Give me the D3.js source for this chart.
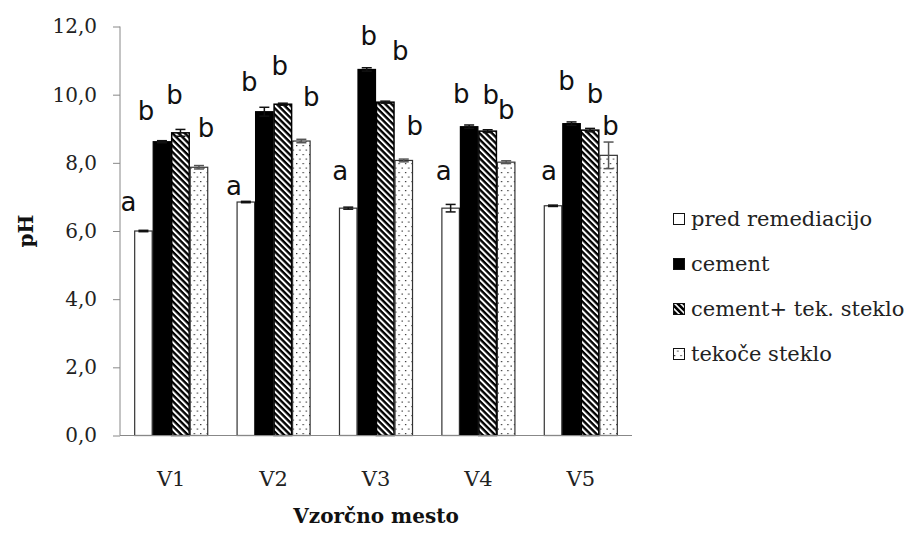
<!DOCTYPE html>
<html>
<head>
<meta charset="utf-8">
<script src="https://cdn.jsdelivr.net/npm/d3@7"></script>
<style>
  html, body { margin: 0; padding: 0; background: #fff; }
  svg { display: block; }
</style>
</head>
<body>
<div id="chart"></div>
<script>
// ---- data ----
const categories = ["V1", "V2", "V3", "V4", "V5"];
const seriesNames = ["pred remediacijo", "cement", "cement+ tek. steklo", "tekoče steklo"];
const predRemediacijo = [6.00, 6.85, 6.67, 6.67, 6.74];
const cement = [8.62, 9.50, 10.74, 9.06, 9.15];
const cementTekSteklo = [8.88, 9.72, 9.78, 8.93, 8.96];
const tekoceSteklo = [7.87, 8.64, 8.07, 8.02, 8.22];
const errPred = [0.02, 0.02, 0.03, 0.11, 0.02];
const errCement = [0.03, 0.13, 0.05, 0.05, 0.05];
const errCementTek = [0.10, 0.03, 0.03, 0.04, 0.05];
const errTekoce = [0.05, 0.05, 0.04, 0.04, 0.39];
const letters = [
  ["a", "b", "b", "b"],
  ["a", "b", "b", "b"],
  ["a", "b", "b", "b"],
  ["a", "b", "b", "b"],
  ["a", "b", "b", "b"]
];
// letter baseline heights (pH units) and horizontal nudges (px) as placed in the original
const letterLevel = [
  [6.59, 9.26, 9.73, 8.76],
  [7.06, 10.11, 10.58, 9.67],
  [7.50, 11.46, 11.02, 8.82],
  [7.50, 9.76, 9.73, 9.29],
  [7.50, 10.14, 9.76, 8.82]
];
const letterNudge = [
  [-15, -16, -6, 7],
  [-12, -15, -3, 10],
  [-8, 2, 15, 11],
  [-7, -8, 3, 0],
  [-4, -5, 5, 2]
];
const yTicks = [0, 2, 4, 6, 8, 10, 12];
const yTitle = "pH";
const xTitle = "Vzorčno mesto";

const values = [predRemediacijo, cement, cementTekSteklo, tekoceSteklo];
const errors = [errPred, errCement, errCementTek, errTekoce];

// ---- layout ----
const W = 907, H = 537;
const plot = { left: 120, right: 632, top: 26.5, bottom: 435.5 };
const svg = d3.select("#chart").append("svg").attr("width", W).attr("height", H);

const defs = svg.append("defs");
const hatch = defs.append("pattern").attr("id", "hatch")
  .attr("patternUnits", "userSpaceOnUse").attr("width", 4.4).attr("height", 4.4)
  .attr("patternTransform", "rotate(-45)");
hatch.append("rect").attr("width", 4.4).attr("height", 4.4).attr("fill", "#000");
hatch.append("rect").attr("width", 2.0).attr("height", 4.4).attr("fill", "#fff");

const hatchLeg = defs.append("pattern").attr("id", "hatchLeg")
  .attr("patternUnits", "userSpaceOnUse").attr("width", 4.2).attr("height", 4.2)
  .attr("patternTransform", "rotate(-45)");
hatchLeg.append("rect").attr("width", 4.2).attr("height", 4.2).attr("fill", "#000");
hatchLeg.append("rect").attr("width", 1.6).attr("height", 4.2).attr("fill", "#fff");

const dots = defs.append("pattern").attr("id", "dots")
  .attr("patternUnits", "userSpaceOnUse").attr("width", 6.5).attr("height", 9);
dots.append("rect").attr("width", 6.5).attr("height", 9).attr("fill", "#fff");
dots.append("rect").attr("x", 1).attr("y", 1).attr("width", 1.2).attr("height", 1.2).attr("fill", "#222");
dots.append("rect").attr("x", 4.2).attr("y", 5.5).attr("width", 1.2).attr("height", 1.2).attr("fill", "#222");

const fills = ["#fff", "#000", "url(#hatch)", "url(#dots)"];
const legFills = ["#fff", "#000", "url(#hatchLeg)", "url(#dots)"];
const strokes = ["#333", "#000", "#000", "#333"];

const x0 = d3.scaleBand().domain(categories).range([plot.left, plot.right])
  .paddingInner(0.277).paddingOuter(0.1385);
const x1 = d3.scaleBand().domain(d3.range(seriesNames.length)).range([0, x0.bandwidth()]);
const y = d3.scaleLinear().domain([0, 12]).range([plot.bottom, plot.top]);

// bars
const groups = svg.append("g").selectAll("g").data(categories).join("g")
  .attr("transform", d => `translate(${x0(d)},0)`);

groups.each(function (cat, ci) {
  const g = d3.select(this);
  seriesNames.forEach((s, si) => {
    const v = values[si][ci];
    g.append("rect")
      .attr("x", x1(si) + 0.5).attr("y", y(v))
      .attr("width", x1.bandwidth() - 1).attr("height", y(0) - y(v))
      .attr("fill", fills[si]).attr("stroke", strokes[si]).attr("stroke-width", si === 2 ? 1.5 : 1.2);
    // error bar
    const e = errors[si][ci];
    const cx = x1(si) + x1.bandwidth() / 2;
    const eg = g.append("g").attr("stroke", si === 3 ? "#555" : "#111").attr("stroke-width", 1.5);
    eg.append("line").attr("x1", cx).attr("x2", cx).attr("y1", y(v - e)).attr("y2", y(v + e));
    eg.append("line").attr("x1", cx - 5).attr("x2", cx + 5).attr("y1", y(v + e)).attr("y2", y(v + e));
    eg.append("line").attr("x1", cx - 5).attr("x2", cx + 5).attr("y1", y(v - e)).attr("y2", y(v - e));
    // significance letter
    g.append("text")
      .attr("x", cx + letterNudge[ci][si]).attr("y", y(letterLevel[ci][si]))
      .attr("text-anchor", "middle")
      .attr("font-family", "DejaVu Sans, sans-serif").attr("font-size", 26)
      .attr("fill", "#111")
      .text(letters[ci][si]);
  });
});

// axes
const axisColor = "#888";
const yAxis = svg.append("g").attr("transform", `translate(${plot.left},0)`)
  .call(d3.axisLeft(y).tickValues(yTicks).tickSize(7).tickPadding(16)
    .tickFormat(d => d3.format(".1f")(d).replace(".", ",")));
yAxis.select(".domain").attr("stroke", axisColor).attr("d", `M0,${plot.top}V${plot.bottom}`);
yAxis.selectAll(".tick line").attr("stroke", axisColor);
yAxis.selectAll("text").attr("font-family", "DejaVu Serif, serif").attr("font-size", 20).attr("fill", "#222");

const xAxis = svg.append("g").attr("transform", `translate(0,${plot.bottom})`)
  .call(d3.axisBottom(x0).tickSize(0).tickPadding(36));
xAxis.select(".domain").attr("stroke", axisColor).attr("d", `M${plot.left},0H${plot.right}`);
xAxis.selectAll("text").attr("font-family", "DejaVu Serif, serif").attr("font-size", 21).attr("fill", "#222");

// axis titles
svg.append("text").attr("x", 376).attr("y", 523).attr("text-anchor", "middle")
  .attr("font-family", "DejaVu Serif, serif").attr("font-weight", "bold").attr("font-size", 20)
  .attr("fill", "#111").text(xTitle);
svg.append("text").attr("transform", "translate(33,231) rotate(-90)").attr("text-anchor", "middle")
  .attr("font-family", "DejaVu Serif, serif").attr("font-weight", "bold").attr("font-size", 20)
  .attr("fill", "#111").text(yTitle);

// legend
const legendY = d3.scalePoint().domain(seriesNames).range([219, 354]);
const leg = svg.append("g").selectAll("g").data(seriesNames).join("g")
  .attr("transform", d => `translate(673,${legendY(d)})`);
leg.append("rect").attr("x", 0.5).attr("y", -5.5).attr("width", 11).attr("height", 11)
  .attr("fill", (d, i) => legFills[i]).attr("stroke", "#111").attr("stroke-width", 1);
leg.append("text").attr("x", 18).attr("y", 7)
  .attr("font-family", "DejaVu Serif, serif").attr("font-size", 21).attr("fill", "#222")
  .text(d => d);
</script>
</body>
</html>
